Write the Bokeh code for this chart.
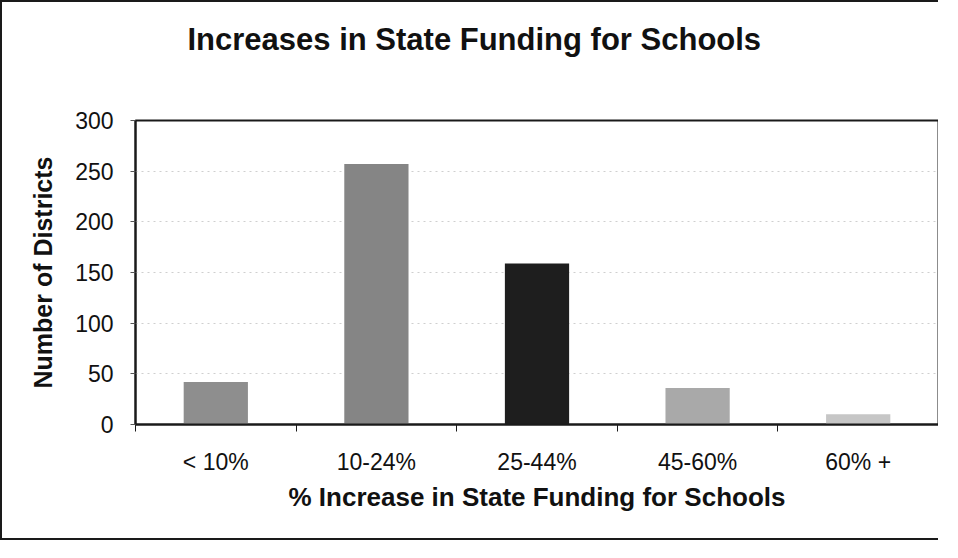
from bokeh.plotting import figure
from bokeh.models import FixedTicker, ColumnDataSource, Title
from bokeh.embed import file_html
from bokeh.resources import INLINE

# ---- data ----
title_text = "Increases in State Funding for Schools"
categories = ["< 10%", "10-24%", "25-44%", "45-60%", "60% +"]
districts = [42, 257, 159, 36, 10]
bar_colors = ["#8e8e8e", "#858585", "#1e1e1e", "#a9a9a9", "#c6c6c6"]
y_ticks = [0, 50, 100, 150, 200, 250, 300]

xs = [i + 1 for i in range(len(categories))]
src = ColumnDataSource(dict(x=xs, top=districts, color=bar_colors))

FONT = "Liberation Sans"

p = figure(width=938, height=540, output_backend="svg", toolbar_location=None,
           x_range=(0.5, len(categories) + 0.5), y_range=(0, 300),
           min_border_left=133, min_border_right=2, min_border_top=118,
           min_border_bottom=118)
p.styles = {"border-left": "2px solid #1a1a1a", "border-top": "2px solid #1a1a1a",
            "border-bottom": "2px solid #1a1a1a"}

p.vbar(x="x", top="top", width=0.4, bottom=0, color="color", source=src,
       line_color=None)

# title
p.title.text = title_text
p.title.text_font = FONT
p.title.text_font_size = "31px"
p.title.text_font_style = "bold"
p.title.align = "left"
p.title.offset = 52
p.title.standoff = 0
p.title.text_color = "#111111"
# blank spacer between the title and the plot frame
p.add_layout(Title(text=" ", text_font_size="1px", standoff=61), "above")

# frame outline
p.outline_line_color = "#1a1a1a"
p.outline_line_width = 2

# grid
p.xgrid.grid_line_color = None
p.ygrid.grid_line_color = "#cfcfcf"
p.ygrid.grid_line_dash = "2 4"
p.ygrid.grid_line_width = 1

# y axis
p.yaxis.ticker = FixedTicker(ticks=y_ticks)
p.yaxis.axis_label = "Number of Districts"
p.yaxis.axis_label_text_font = FONT
p.yaxis.axis_label_text_font_size = "25px"
p.yaxis.axis_label_text_font_style = "bold"
p.yaxis.axis_label_standoff = 15
p.yaxis.axis_label_text_color = "#111111"
p.yaxis.major_label_text_font = FONT
p.yaxis.major_label_text_font_size = "23px"
p.yaxis.major_label_text_color = "#111111"
p.yaxis.major_label_standoff = 17
p.yaxis.major_tick_out = 5
p.yaxis.major_tick_in = 0
p.yaxis.major_tick_line_color = "#555555"
p.yaxis.minor_tick_line_color = None
p.yaxis.axis_line_color = "#1a1a1a"
p.yaxis.axis_line_width = 2

# x axis: labels at centres, ticks at boundaries
p.xaxis.ticker = FixedTicker(ticks=xs, minor_ticks=[x - 0.5 for x in xs] + [xs[-1] + 0.5])
p.xaxis.major_label_overrides = {x: c for x, c in zip(xs, categories)}
p.xaxis.major_tick_line_color = None
p.xaxis.major_tick_out = 0
p.xaxis.major_tick_in = 0
p.xaxis.minor_tick_out = 7
p.xaxis.minor_tick_in = 0
p.xaxis.minor_tick_line_color = "#1a1a1a"
p.xaxis.minor_tick_line_width = 1
p.xaxis.major_label_text_font = FONT
p.xaxis.major_label_text_font_size = "23px"
p.xaxis.major_label_text_color = "#111111"
p.xaxis.major_label_standoff = 17
p.xaxis.axis_label = "% Increase in State Funding for Schools"
p.xaxis.axis_label_text_font = FONT
p.xaxis.axis_label_text_font_size = "26px"
p.xaxis.axis_label_text_font_style = "bold"
p.xaxis.axis_label_standoff = 4
p.xaxis.axis_label_text_color = "#111111"
p.xaxis.axis_line_color = "#1a1a1a"
p.xaxis.axis_line_width = 2

open("out.html", "w").write(file_html(p, INLINE))
